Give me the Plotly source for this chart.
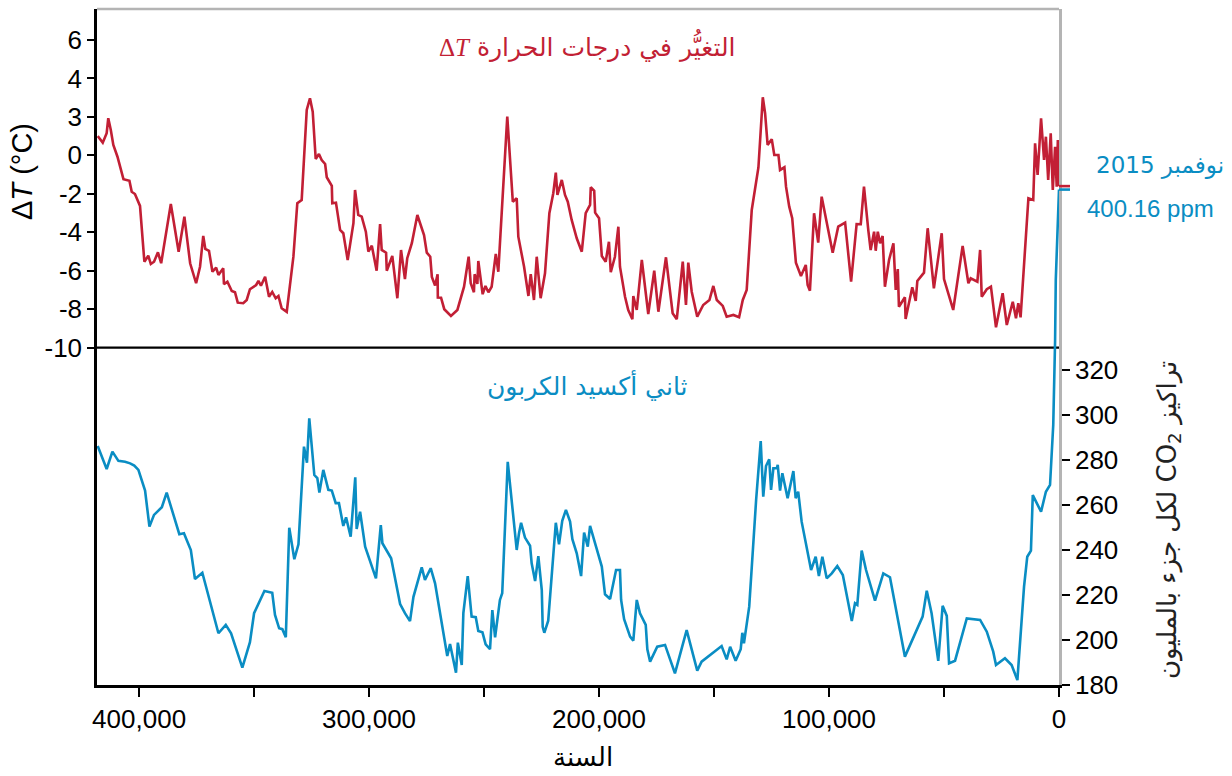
import plotly.graph_objects as go

# Temperature change (ΔT, °C) versus thousands of years before present
temp_age_ka = [
    418.0, 415.8, 414.1, 413.4, 412.3, 411.2, 409.4, 406.8, 404.2, 403.2, 401.8, 399.6,
    397.7, 396.0, 394.9, 393.5, 391.8, 390.4, 386.2, 382.8, 380.3, 377.8, 375.2, 373.5,
    372.1, 371.2, 369.6, 368.1, 366.5, 365.5, 363.4, 363.1, 361.6, 359.7, 358.3, 357.1,
    354.7, 353.2, 351.8, 349.1, 348.1, 347.0, 345.2, 343.5, 342.1, 340.6, 339.4, 338.0,
    335.8, 332.9, 331.2, 329.3, 327.1, 325.7, 324.5, 323.2, 321.8, 320.6, 319.1, 318.4,
    316.2, 316.0, 314.4, 312.6, 311.2, 309.3, 306.8, 306.1, 304.7, 303.2, 301.4, 300.3,
    298.8, 296.7, 295.2, 294.5, 292.6, 292.3, 289.9, 287.7, 286.1, 284.4, 283.4, 281.4,
    279.0, 276.1, 274.9, 273.4, 272.7, 271.3, 270.2, 270.1, 268.7, 267.3, 264.4, 261.6,
    258.7, 256.7, 255.8, 254.4, 254.1, 252.9, 252.5, 250.6, 249.4, 248.1, 246.7, 244.9,
    243.8, 239.9, 237.5, 235.8, 235.1, 232.6, 230.7, 229.7, 228.3, 227.1, 225.4, 223.5,
    221.6, 219.9, 218.8, 218.1, 216.2, 214.8, 213.6, 211.9, 209.7, 207.5, 205.8, 203.9,
    203.6, 202.1, 201.7, 200.0, 198.8, 197.1, 195.7, 194.9, 193.1, 191.6, 190.9, 188.7,
    187.3, 185.5, 185.1, 183.6, 181.4, 178.6, 176.0, 174.2, 170.9, 168.0, 166.2, 163.6,
    162.2, 161.2, 159.7, 157.3, 154.7, 152.0, 150.3, 148.8, 146.2, 144.5, 141.6, 139.1,
    137.5, 135.8, 133.6, 130.7, 128.8, 127.8, 126.7, 124.9, 123.8, 122.0, 121.3, 119.4,
    118.7, 117.3, 116.0, 114.4, 112.2, 110.1, 109.3, 108.3, 106.5, 104.7, 103.2, 98.4,
    96.0, 93.0, 90.4, 88.0, 86.2, 84.8, 82.9, 81.9, 80.4, 79.7, 78.8, 77.8,
    76.7, 75.7, 73.9, 72.0, 71.0, 70.1, 69.6, 67.0, 66.7, 63.8, 62.3, 61.6,
    58.7, 57.1, 54.4, 51.0, 50.0, 46.0, 41.9, 39.4, 38.4, 35.5, 34.3, 33.6,
    31.4, 29.6, 27.4, 24.5, 22.7, 20.1, 18.7, 17.7, 16.7, 13.3, 11.2, 10.4,
    9.3, 7.8, 6.5, 5.7, 4.7, 3.6, 2.7, 1.7, 1.0, 0.5, 0.0,
]
temp_delta = [
    1.00, 0.66, 1.15, 1.93, 1.32, 0.54, -0.07, -1.24, -1.32, -1.89, -2.01, -2.63,
    -5.53, -5.22, -5.65, -5.53, -5.04, -5.61, -2.53, -5.01, -3.19, -5.61, -6.65, -5.79,
    -4.19, -4.87, -4.97, -6.05, -5.84, -6.22, -5.87, -6.70, -6.57, -7.05, -7.12, -7.66,
    -7.69, -7.52, -6.96, -6.74, -6.53, -6.78, -6.31, -7.35, -7.10, -7.43, -7.31, -7.95,
    -8.14, -5.27, -2.49, -2.32, 2.36, 2.97, 2.27, -0.19, 0.07, -0.24, -0.45, -1.14,
    -1.59, -2.49, -2.46, -3.88, -4.05, -5.44, -3.53, -1.80, -3.10, -3.19, -3.97, -5.01,
    -4.70, -6.00, -3.57, -4.92, -5.06, -6.00, -5.23, -7.43, -4.92, -6.43, -5.35, -4.57,
    -3.10, -4.14, -5.06, -5.27, -6.32, -6.77, -6.18, -7.39, -7.40, -8.00, -8.35, -8.04,
    -6.83, -5.27, -6.65, -7.12, -6.18, -6.69, -5.49, -7.22, -6.79, -7.12, -6.83, -5.13,
    -6.05, 2.01, -2.41, -2.23, -4.23, -5.79, -7.31, -6.18, -7.52, -5.27, -7.43, -6.13,
    -3.01, -1.97, -0.90, -2.06, -1.28, -2.06, -2.41, -3.36, -4.31, -5.01, -3.01, -2.58,
    -1.66, -1.84, -2.98, -3.27, -5.23, -5.53, -4.49, -6.08, -5.27, -3.71, -5.79, -7.35,
    -8.04, -8.52, -7.31, -8.04, -5.44, -8.25, -6.00, -8.13, -5.30, -8.21, -8.52, -5.53,
    -7.78, -5.58, -7.09, -8.39, -7.78, -7.52, -6.79, -7.52, -7.83, -8.39, -8.30, -8.42,
    -7.52, -7.00, -2.84, -0.63, 3.02, 2.19, 0.54, 0.84, 0.02, 0.02, -0.76, -0.62,
    -1.63, -2.67, -3.27, -5.58, -6.27, -5.70, -6.74, -7.04, -3.01, -4.54, -2.15, -5.06,
    -3.71, -3.50, -6.57, -3.57, -3.58, -1.63, -3.92, -4.92, -3.97, -4.96, -3.97, -4.57,
    -4.19, -6.83, -5.44, -4.57, -7.00, -5.91, -7.87, -7.38, -8.51, -6.86, -7.57, -6.53,
    -6.10, -3.79, -6.91, -4.05, -6.43, -8.04, -4.71, -6.65, -6.39, -6.57, -4.92, -7.35,
    -6.96, -6.83, -8.94, -7.17, -8.82, -7.61, -8.47, -7.69, -8.42, -2.23, -2.32, 0.63,
    -1.02, 1.93, -0.24, 0.97, -1.28, 1.15, -1.80, 0.45, -1.63, 0.80, -1.60,
]

# Atmospheric CO2 (ppm) versus thousands of years before present
co2_age_ka = [
    418.0, 414.1, 411.6, 409.0, 406.1, 403.9, 402.1, 400.3, 397.4, 395.5, 393.5, 390.1,
    388.0, 385.8, 382.5, 380.5, 377.5, 375.7, 372.5, 365.5, 362.3, 360.0, 355.1, 351.8,
    350.0, 345.5, 342.1, 340.9, 339.1, 337.7, 336.2, 334.7, 332.5, 330.7, 328.3, 327.0,
    326.0, 323.8, 322.5, 321.6, 319.9, 317.7, 316.2, 314.5, 313.1, 311.2, 310.0, 308.0,
    306.0, 305.4, 303.9, 301.7, 297.0, 294.9, 294.2, 290.4, 286.5, 284.4, 282.2, 280.7,
    277.1, 275.7, 273.2, 271.3, 267.7, 266.0, 264.8, 262.2, 261.4, 259.7, 259.0, 257.1,
    255.4, 253.6, 252.5, 250.7, 249.3, 247.4, 246.4, 245.2, 243.1, 242.1, 239.7, 236.5,
    235.8, 234.8, 233.9, 232.2, 230.0, 229.3, 227.8, 226.4, 224.9, 224.5, 223.8, 222.1,
    220.6, 218.8, 217.4, 216.0, 214.4, 212.6, 211.6, 209.7, 207.8, 206.5, 204.9, 203.9,
    201.3, 198.8, 197.4, 195.2, 192.6, 190.9, 190.4, 189.1, 186.5, 185.1, 183.6, 182.2,
    179.7, 179.0, 177.8, 174.7, 171.3, 167.0, 161.9, 157.3, 155.4, 146.7, 144.5, 143.0,
    140.6, 138.4, 137.7, 137.0, 134.7, 131.7, 129.7, 128.6, 127.4, 126.0, 125.2, 124.2,
    122.7, 122.3, 121.3, 120.3, 118.0, 115.5, 114.5, 113.4, 111.9, 107.8, 105.8, 104.4,
    102.9, 101.0, 98.8, 96.4, 94.0, 90.1, 88.7, 87.7, 85.8, 83.9, 80.0, 76.4,
    73.5, 67.0, 59.3, 57.5, 55.4, 52.5, 50.6, 48.8, 47.8, 45.2, 40.1, 34.3,
    31.4, 28.6, 27.4, 23.5, 20.6, 18.1, 15.2, 13.8, 12.2, 11.4, 7.8, 5.7,
    3.9, 2.5, 1.7, 1.4, 0.0,
]
co2_ppm = [
    286.2, 276.0, 283.7, 279.6, 279.2, 278.5, 277.5, 275.6, 266.4, 250.4, 255.6, 259.0,
    265.5, 258.5, 247.0, 247.4, 240.0, 227.1, 229.9, 203.0, 206.7, 203.0, 187.7, 199.0,
    211.9, 221.8, 221.0, 211.1, 205.2, 204.8, 201.2, 249.9, 235.9, 242.5, 285.9, 278.8,
    298.5, 273.3, 271.9, 265.5, 275.6, 266.7, 266.4, 260.8, 260.8, 250.7, 254.5, 245.9,
    272.3, 249.3, 257.0, 241.5, 227.4, 251.1, 243.0, 236.3, 216.0, 211.9, 208.4, 219.2,
    232.3, 226.7, 231.9, 225.2, 204.4, 192.9, 198.2, 185.5, 198.8, 188.9, 211.9, 228.4,
    210.4, 210.1, 204.0, 203.4, 198.1, 195.9, 213.3, 201.2, 217.8, 220.8, 279.2, 248.9,
    240.0, 247.4, 252.1, 245.5, 241.9, 234.1, 226.2, 237.3, 222.2, 205.9, 203.2, 208.6,
    228.1, 252.1, 242.5, 253.0, 257.8, 252.6, 244.8, 238.5, 228.4, 247.7, 241.5, 250.7,
    241.5, 232.6, 220.3, 218.2, 231.1, 231.1, 217.8, 209.2, 201.5, 199.7, 217.8, 211.9,
    206.7, 195.9, 190.4, 197.0, 197.8, 185.2, 204.4, 186.4, 190.4, 197.3, 191.4, 197.0,
    190.8, 195.9, 203.2, 198.5, 214.8, 262.2, 288.4, 263.7, 277.3, 280.3, 266.7, 276.3,
    276.3, 277.8, 266.4, 274.1, 263.0, 275.1, 263.0, 265.9, 252.6, 231.1, 237.0, 228.4,
    237.0, 227.4, 229.6, 232.9, 228.9, 208.4, 216.3, 215.6, 239.7, 231.1, 217.5, 229.6,
    227.9, 192.6, 210.4, 221.9, 211.9, 190.7, 215.2, 210.7, 189.6, 190.8, 209.6, 208.9,
    203.7, 194.8, 188.9, 191.9, 188.9, 182.2, 223.7, 237.0, 239.7, 264.4, 257.0, 265.9,
    268.9, 295.6, 333.0, 360.0, 400.16,
]

# Axis ticks
year_ticks = [400000, 300000, 200000, 100000, 0]
year_tick_text = ["400,000", "300,000", "200,000", "100,000", "0"]
year_minor_ticks = [350000, 250000, 150000, 50000]
dt_ticks = [-10, -8, -6, -4, -2, 0, 2, 4, 6]
dt_tick_text = ["-10", "-8", "-6", "-4", "-2", "0", "3", "4", "6"]
co2_ticks = [180, 200, 220, 240, 260, 280, 300, 320]

RED = "#C21F35"
BLUE = "#0A8DC3"
SANS = "Liberation Sans, Arial, sans-serif"
ARABIC = "DejaVu Sans, sans-serif"
TICK_FONT = dict(family=SANS, size=26, color="black")

W, H = 1232, 776
M = dict(l=97, r=173, t=9, b=91)
plot_w = W - M["l"] - M["r"]
plot_h = H - M["t"] - M["b"]

x_range = [418300, 0]
dt_range = [-27.54, 7.61]
co2_range = [180, 480.4]


def px_x(px):
    return (px - M["l"]) / plot_w


def px_y(py):
    return 1 - (py - M["t"]) / plot_h


fig = go.Figure()
fig.add_trace(go.Scatter(
    x=[a * 1000 for a in temp_age_ka], y=temp_delta, mode="lines",
    line=dict(color=RED, width=2.6), yaxis="y", hoverinfo="skip", showlegend=False,
))
fig.add_trace(go.Scatter(
    x=[a * 1000 for a in co2_age_ka], y=co2_ppm, mode="lines",
    line=dict(color=BLUE, width=2.6), yaxis="y2", hoverinfo="skip", showlegend=False,
))

shapes = [
    # top border
    dict(type="line", xref="paper", yref="paper", x0=0, x1=1, y0=1, y1=1,
         line=dict(color="#b4b4b4", width=2.5), layer="below"),
    # divider between the two panels at ΔT = -10
    dict(type="line", xref="paper", yref="y", x0=0, x1=1, y0=-10, y1=-10,
         line=dict(color="black", width=2.2), layer="below"),
]
# short leaders from the latest values toward the labels on the right
stub = 11 / plot_w
red_end = (temp_delta[-1] - dt_range[0]) / (dt_range[1] - dt_range[0])
blue_end = (co2_ppm[-1] - co2_range[0]) / (co2_range[1] - co2_range[0])
shapes.append(dict(type="line", xref="paper", yref="paper", x0=1, x1=1 + stub,
                   y0=blue_end, y1=blue_end, line=dict(color=BLUE, width=2.6)))
shapes.append(dict(type="line", xref="paper", yref="paper", x0=1, x1=1 + stub,
                   y0=red_end, y1=red_end, line=dict(color=RED, width=2.6)))

annotations = [
    dict(text="<span style='font-family:Liberation Serif, serif'>Δ<i>T</i></span> التغيُّر في درجات الحرارة",
         x=px_x(587), y=px_y(45), font=dict(family=ARABIC, size=25, color=RED)),
    dict(text="ثاني أكسيد الكربون", x=px_x(587), y=px_y(385),
         font=dict(family=ARABIC, size=25, color=BLUE)),
    dict(text="Δ<i>T</i> (°C)", x=px_x(22), y=px_y(172), textangle=-90,
         font=dict(family=SANS, size=29, color="black")),
    dict(text="لكل جزء بالمليون CO<sub>2</sub> تراكيز", x=px_x(1168), y=px_y(520), textangle=-90,
         font=dict(family=ARABIC, size=26, color="#222222")),
    dict(text="السنة", x=px_x(583), y=px_y(757),
         font=dict(family=ARABIC, size=26, color="black")),
    dict(text="2015 نوفمبر", x=px_x(1160), y=px_y(165),
         font=dict(family=ARABIC, size=23, color=BLUE)),
    dict(text=f"{co2_ppm[-1]:.2f} ppm", x=px_x(1150), y=px_y(208),
         font=dict(family=SANS, size=24, color=BLUE)),
]
for a in annotations:
    a.update(xref="paper", yref="paper", xanchor="center", yanchor="middle", showarrow=False)

fig.update_layout(
    width=W, height=H, margin=M,
    paper_bgcolor="white", plot_bgcolor="white",
    showlegend=False,
    xaxis=dict(
        range=x_range, tickvals=year_ticks, ticktext=year_tick_text,
        showline=True, linecolor="black", linewidth=2.5,
        ticks="outside", ticklen=9, tickwidth=1.5, tickcolor="black",
        minor=dict(tickvals=year_minor_ticks, ticks="outside", ticklen=9,
                   tickwidth=1.5, tickcolor="black", showgrid=False),
        showgrid=False, zeroline=False, tickfont=TICK_FONT,
    ),
    yaxis=dict(
        range=dt_range, tickvals=dt_ticks, ticktext=dt_tick_text,
        showline=True, linecolor="black", linewidth=2.5,
        ticks="outside", ticklen=7, tickwidth=1.5, tickcolor="black",
        showgrid=False, zeroline=False, tickfont=TICK_FONT,
    ),
    yaxis2=dict(
        range=co2_range, tickvals=co2_ticks, overlaying="y", side="right",
        showline=True, linecolor="#b4b4b4", linewidth=2.5,
        ticks="outside", ticklen=8, tickwidth=1.5, tickcolor="black",
        showgrid=False, zeroline=False, tickfont=TICK_FONT,
    ),
    shapes=shapes,
    annotations=annotations,
)

fig.write_html("out.html")
